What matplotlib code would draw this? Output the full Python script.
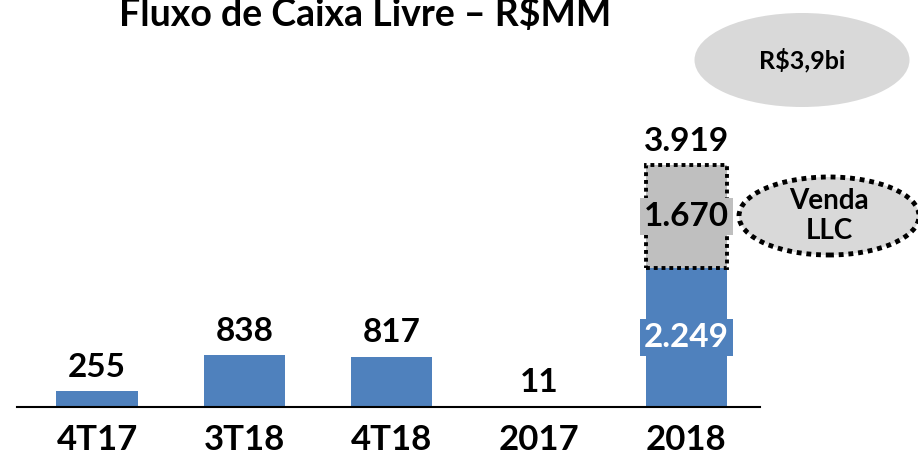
"""
Fluxo de Caixa Livre - recreated bar chart
"""

import matplotlib
matplotlib.use('Agg')  # Non-GUI backend

import matplotlib.pyplot as plt
from matplotlib.patches import Ellipse

plt.rcParams['font.family'] = ['Lato', 'DejaVu Sans']
plt.rcParams['font.weight'] = 'bold'

# Data
categories = ['4T17', '3T18', '4T18', '2017', '2018']
fcl_values = [255, 838, 817, 11, 2249]
venda_llc = 1670          # only on 2018
fcl_labels = ['255', '838', '817', '11', '2.249']
venda_label = '1.670'
total_label = '3.919'
title = 'Fluxo de Caixa Livre – R$MM'
bubble_total = 'R$3,9bi'
bubble_venda = 'Venda\nLLC'

blue = '#4f81bd'
gray = '#bfbfbf'
light_gray = '#d9d9d9'

fig = plt.figure(figsize=(9.18, 4.59), dpi=100)
ax = fig.add_axes([0.019, 0.1133, 0.809, 0.8867])

x = list(range(len(categories)))
bar_w = 0.55
bars = ax.bar(x, fcl_values, width=bar_w, color=blue, zorder=2)

# Venda LLC stacked on top of 2018
last = len(categories) - 1
ax.bar(last, venda_llc, bottom=fcl_values[last], width=bar_w, color=gray,
       edgecolor='black', linewidth=2.8, linestyle=(0, (1, 1)), zorder=2)

# Value labels on top of the first bars
for i in range(last):
    ax.annotate(fcl_labels[i], xy=(i, fcl_values[i]), xytext=(0, 17),
                textcoords='offset points', ha='center', va='center',
                fontsize=24, fontweight='bold')

# Labels inside the 2018 stack
ax.text(last, fcl_values[last] / 2, fcl_labels[last], ha='center', va='center',
        fontsize=24, fontweight='bold', color='white', zorder=3,
        bbox=dict(boxstyle='square,pad=0.12', facecolor=blue, edgecolor='none'))
ax.text(last, fcl_values[last] + venda_llc / 2, venda_label, ha='center',
        va='center', fontsize=24, fontweight='bold', color='black', zorder=3,
        bbox=dict(boxstyle='square,pad=0.12', facecolor=gray, edgecolor='none'))
ax.annotate(total_label, xy=(last, fcl_values[last] + venda_llc), xytext=(0, 17),
            textcoords='offset points', ha='center', va='center',
            fontsize=24, fontweight='bold')

ax.set_xlim(-0.54, 4.5)
ax.set_ylim(0, 6586)
ax.set_xticks(x)
ax.set_xticklabels(categories, fontsize=25, fontweight='bold')
ax.tick_params(axis='x', length=0, pad=12)
ax.set_yticks([])
for side in ['top', 'right', 'left']:
    ax.spines[side].set_visible(False)
ax.spines['bottom'].set_linewidth(1.5)
ax.spines['bottom'].set_color('black')
ax.patch.set_visible(False)

# Title (partly cut off at the top, as in the source)
fig.text(0.398, 1 - 26 / 459, title, ha='center', va='baseline',
         fontsize=27, fontweight='bold')

# Bubbles
fig.add_artist(Ellipse((802 / 918, 1 - 60 / 459), 215 / 918, 94 / 459,
                       transform=fig.transFigure, facecolor=light_gray,
                       edgecolor='none'))
fig.text(802 / 918, 1 - 60 / 459, bubble_total, ha='center', va='center',
         fontsize=18, fontweight='bold')

fig.add_artist(Ellipse((829 / 918, 1 - 216 / 459), 180 / 918, 78 / 459,
                       transform=fig.transFigure, facecolor=light_gray,
                       edgecolor='black', linewidth=3.5, linestyle=(0, (1, 1))))
fig.text(829 / 918, 1 - 216 / 459, bubble_venda, ha='center', va='center',
         fontsize=20, fontweight='bold', linespacing=1.2)

fig.savefig('out.png', dpi=100, facecolor='white')
